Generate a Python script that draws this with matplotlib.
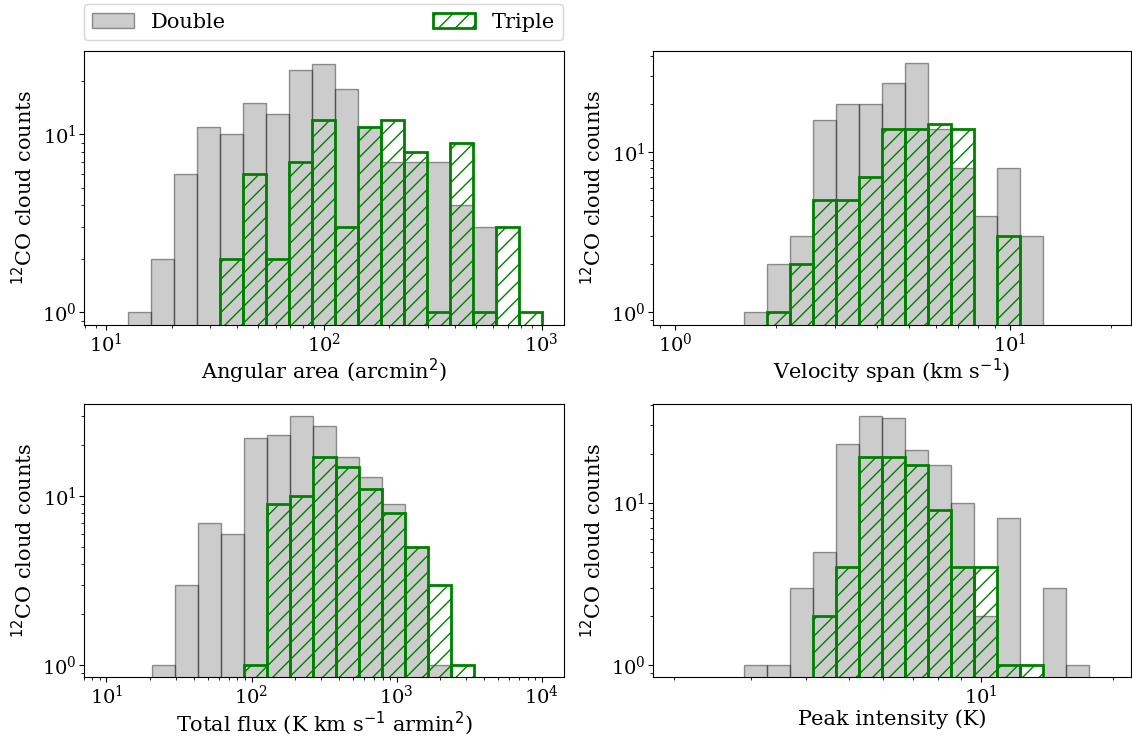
import numpy as np
import matplotlib
matplotlib.use("Agg")
import matplotlib.pyplot as plt

plt.rcParams['font.family'] = 'serif'
plt.rcParams['font.serif'] = ['DejaVu Serif']

# bin ranges (log10 of first and last edge)
area_range = (1.1, 3.0)
area_double = [1, 2, 6, 11, 10, 15, 13, 23, 25, 18, 11, 7, 7, 7, 4, 3, 0, 0]
area_triple = [0, 0, 0, 0, 2, 6, 2, 7, 12, 3, 11, 12, 8, 1, 9, 1, 3, 1]

vel_range = (0.2054, 1.0977)
vel_double = [1, 2, 3, 16, 20, 20, 27, 36, 14, 8, 4, 8, 3]
vel_triple = [0, 1, 2, 5, 5, 7, 14, 14, 15, 14, 0, 3, 0]

flux_range = (1.315, 3.531)
flux_double = [1, 3, 7, 6, 22, 23, 30, 26, 17, 13, 9, 5, 1, 0]
flux_triple = [0, 0, 0, 0, 1, 9, 10, 17, 15, 11, 8, 5, 3, 1]

peak_range = (0.461, 1.2477)
peak_double = [1, 1, 3, 5, 23, 34, 33, 21, 17, 10, 2, 8, 0, 3, 1]
peak_triple = [0, 0, 0, 2, 4, 19, 19, 17, 9, 4, 4, 1, 1, 0, 0]

xlabels = [r'Angular area (arcmin$^2$)', r'Velocity span (km s$^{-1}$)',
           r'Total flux (K km s$^{-1}$ armin$^2$)', 'Peak intensity (K)']
ylabel = r'$^{12}$CO cloud counts'

W, H = 1132, 738
fig = plt.figure(figsize=(W / 100, H / 100), dpi=100)

def box(x0, x1, y0, y1):
    return [x0 / W, 1 - y1 / H, (x1 - x0) / W, (y1 - y0) / H]

panels = [
    (box(84, 564, 51, 325), area_range, area_double, area_triple, (7.9, 1267), (0.85, 29.4)),
    (box(653, 1131, 51, 325), vel_range, vel_double, vel_triple, (0.857, 23), (0.833, 43)),
    (box(84, 564, 404, 677), flux_range, flux_double, flux_triple, (7.0, 14260), (0.853, 35.2)),
    (box(653, 1131, 404, 677), peak_range, peak_double, peak_triple, (1.79, 22.0), (0.848, 40.4)),
]

axes = []
for (rect, rng, dbl, trp, xl, yl), xlab in zip(panels, xlabels):
    ax = fig.add_axes(rect)
    edges = np.logspace(rng[0], rng[1], len(dbl) + 1)
    mids = np.sqrt(edges[:-1] * edges[1:])
    ax.hist(mids, bins=edges, weights=dbl, log=True, color='gray', alpha=0.4,
            edgecolor='k', linewidth=1, label='Double')
    ax.hist(mids, bins=edges, weights=trp, log=True, fill=False, edgecolor='green',
            hatch='//', linewidth=2, label='Triple')
    ax.set_xscale('log')
    ax.set_xlim(*xl)
    ax.set_ylim(*yl)
    ax.set_xlabel(xlab, fontsize=15, labelpad=1)
    ax.set_ylabel(ylabel, fontsize=15)
    ax.tick_params(labelsize=14, pad=2)
    axes.append(ax)

h, l = axes[0].get_legend_handles_labels()
fig.legend(h, l, loc='lower left', ncol=2, mode='expand', fontsize=15,
           bbox_to_anchor=(84 / W, 1 - 40 / H, 479 / W, 39 / H), borderaxespad=0)

fig.savefig('out.png', dpi=100)
